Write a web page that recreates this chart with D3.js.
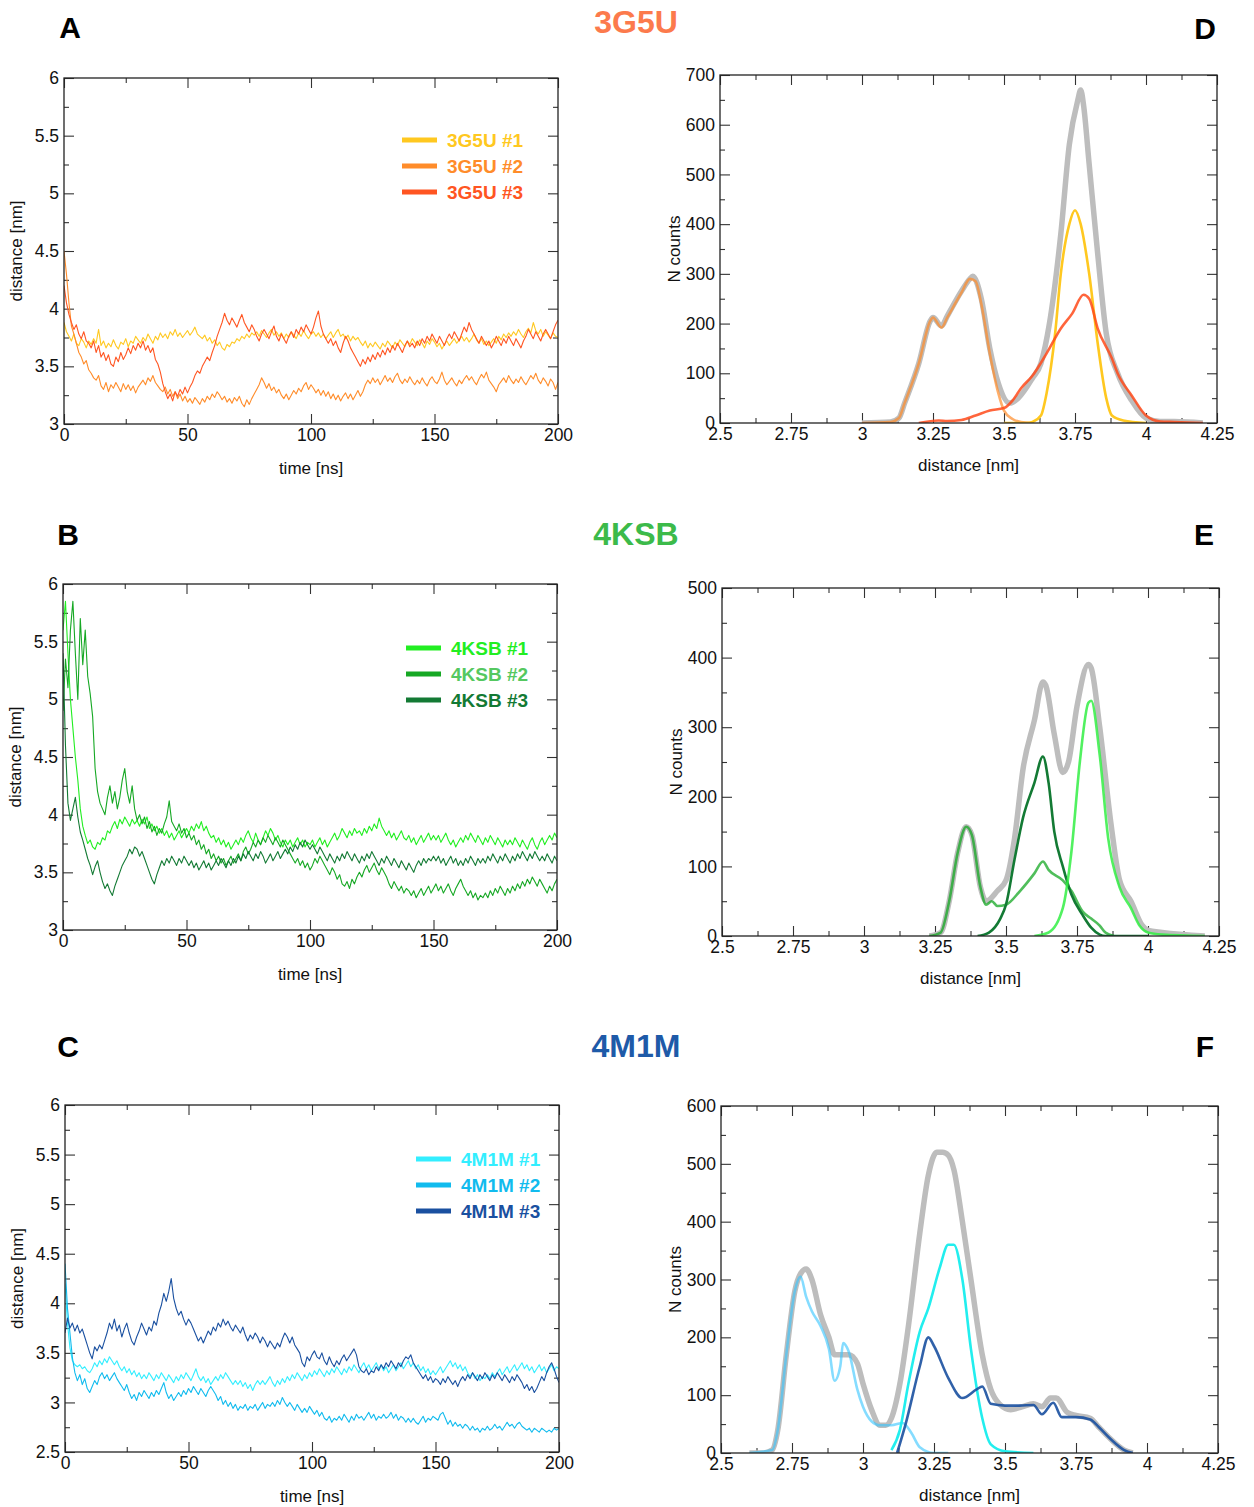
<!DOCTYPE html>
<html><head><meta charset="utf-8">
<script src="https://cdn.jsdelivr.net/npm/d3@7"></script>
<style>
body{margin:0;background:#fff;}
svg text{font-family:"Liberation Sans",Arial,Helvetica,sans-serif;}
</style>
</head><body>
<svg id="c" width="1254" height="1507"></svg>
<script>
// ---------------- DATA ----------------
const timeNs = d3.range(0, 201); // sampling times, 1 ns

const g3g5u_1 = [3.88,3.80,3.76,3.72,3.78,3.70,3.68,3.74,3.71,3.66,3.72,
3.69,3.74,3.70,3.82,3.68,3.72,3.66,3.70,3.67,3.73,
3.68,3.65,3.71,3.69,3.74,3.67,3.72,3.70,3.76,3.73,
3.70,3.75,3.72,3.78,3.74,3.70,3.76,3.73,3.79,3.75,
3.78,3.74,3.80,3.77,3.82,3.76,3.79,3.75,3.78,3.81,
3.77,3.80,3.84,3.78,3.76,3.74,3.77,3.72,3.75,3.70,
3.73,3.68,3.71,3.66,3.64,3.69,3.67,3.71,3.70,3.74,
3.72,3.76,3.74,3.78,3.75,3.79,3.77,3.80,3.76,3.81,
3.78,3.75,3.79,3.82,3.77,3.80,3.76,3.79,3.74,3.78,
3.75,3.80,3.77,3.74,3.79,3.76,3.81,3.77,3.74,3.78,
3.80,3.76,3.79,3.75,3.78,3.74,3.77,3.80,3.75,3.79,
3.82,3.76,3.78,3.74,3.77,3.72,3.76,3.73,3.75,3.71,
3.68,3.72,3.66,3.70,3.67,3.71,3.68,3.65,3.70,3.67,
3.72,3.69,3.66,3.71,3.68,3.73,3.70,3.67,3.72,3.69,
3.74,3.71,3.68,3.73,3.70,3.66,3.72,3.69,3.74,3.71,
3.67,3.70,3.65,3.69,3.72,3.68,3.71,3.74,3.70,3.73,
3.76,3.72,3.75,3.71,3.74,3.78,3.73,3.70,3.74,3.69,
3.72,3.68,3.71,3.74,3.70,3.76,3.73,3.78,3.75,3.79,
3.76,3.80,3.77,3.82,3.78,3.75,3.80,3.83,3.79,3.88,
3.81,3.78,3.82,3.76,3.80,3.77,3.74,3.79,3.76,3.75];

const g3g5u_2 = [4.50,4.30,4.05,3.85,3.78,3.70,3.62,3.58,3.52,3.55,3.47,
3.44,3.40,3.38,3.42,3.33,3.30,3.36,3.28,3.34,3.31,
3.36,3.32,3.28,3.35,3.30,3.34,3.29,3.33,3.27,3.32,
3.35,3.38,3.34,3.40,3.37,3.42,3.36,3.33,3.30,3.28,
3.32,3.26,3.30,3.24,3.28,3.22,3.26,3.20,3.24,3.19,
3.22,3.18,3.23,3.20,3.17,3.22,3.19,3.24,3.21,3.26,
3.23,3.28,3.25,3.21,3.24,3.19,3.22,3.18,3.23,3.20,
3.24,3.18,3.15,3.21,3.17,3.22,3.26,3.30,3.34,3.40,
3.36,3.31,3.35,3.29,3.32,3.27,3.30,3.25,3.22,3.26,
3.21,3.25,3.29,3.26,3.31,3.28,3.33,3.36,3.30,3.34,
3.31,3.27,3.30,3.25,3.29,3.24,3.28,3.22,3.26,3.21,
3.25,3.20,3.24,3.27,3.22,3.26,3.21,3.25,3.29,3.24,
3.28,3.34,3.38,3.35,3.40,3.36,3.39,3.34,3.38,3.42,
3.37,3.40,3.36,3.41,3.44,3.38,3.35,3.39,3.36,3.41,
3.37,3.34,3.38,3.35,3.40,3.36,3.33,3.38,3.41,3.37,
3.35,3.39,3.45,3.38,3.34,3.37,3.40,3.36,3.33,3.38,
3.35,3.39,3.42,3.38,3.41,3.37,3.34,3.39,3.43,3.40,
3.45,3.38,3.35,3.32,3.28,3.34,3.37,3.40,3.36,3.42,
3.38,3.35,3.39,3.36,3.41,3.37,3.34,3.38,3.42,3.39,
3.44,3.38,3.35,3.40,3.37,3.33,3.39,3.36,3.30,3.36];

const g3g5u_3 = [4.20,4.05,3.95,3.88,3.82,3.86,3.78,3.74,3.80,3.72,3.70,
3.66,3.72,3.62,3.68,3.58,3.62,3.55,3.60,3.52,3.50,
3.58,3.54,3.62,3.56,3.60,3.66,3.61,3.68,3.64,3.70,
3.66,3.72,3.64,3.68,3.62,3.66,3.56,3.52,3.45,3.35,
3.28,3.22,3.26,3.20,3.28,3.24,3.30,3.26,3.32,3.27,
3.32,3.36,3.42,3.46,3.44,3.50,3.54,3.58,3.55,3.62,
3.68,3.76,3.82,3.88,3.96,3.90,3.86,3.92,3.88,3.84,
3.90,3.95,3.88,3.84,3.80,3.86,3.82,3.76,3.72,3.78,
3.82,3.78,3.74,3.80,3.85,3.76,3.72,3.78,3.74,3.70,
3.76,3.80,3.75,3.82,3.78,3.84,3.80,3.86,3.82,3.78,
3.84,3.92,3.98,3.85,3.78,3.74,3.70,3.74,3.68,3.72,
3.66,3.62,3.70,3.76,3.72,3.66,3.62,3.58,3.54,3.50,
3.56,3.52,3.58,3.54,3.60,3.56,3.62,3.58,3.64,3.60,
3.66,3.62,3.68,3.64,3.70,3.66,3.62,3.68,3.72,3.67,
3.70,3.66,3.72,3.68,3.74,3.70,3.76,3.72,3.78,3.74,
3.70,3.76,3.72,3.68,3.74,3.78,3.74,3.80,3.76,3.72,
3.78,3.84,3.80,3.88,3.82,3.78,3.74,3.70,3.76,3.72,
3.68,3.72,3.66,3.70,3.76,3.72,3.68,3.74,3.70,3.76,
3.72,3.68,3.74,3.70,3.66,3.72,3.76,3.82,3.78,3.74,
3.80,3.76,3.72,3.78,3.82,3.78,3.74,3.80,3.86,3.90];

const g4ksb_1 = [5.60,5.85,5.40,5.00,4.75,4.50,4.30,4.05,3.90,3.82,3.75,
3.78,3.72,3.70,3.76,3.74,3.80,3.78,3.86,3.84,3.90,
3.94,3.88,3.96,3.92,3.98,3.94,3.90,3.96,3.92,3.95,
3.90,3.96,3.92,3.98,3.88,3.92,3.86,3.90,3.84,3.88,
3.82,3.86,3.80,3.84,3.78,3.82,3.86,3.80,3.84,3.88,
3.84,3.90,3.86,3.92,3.88,3.94,3.86,3.90,3.84,3.80,
3.82,3.76,3.80,3.74,3.78,3.72,3.76,3.70,3.74,3.78,
3.74,3.80,3.76,3.82,3.86,3.80,3.76,3.84,3.78,3.74,
3.80,3.86,3.82,3.88,3.84,3.78,3.82,3.76,3.72,3.78,
3.74,3.78,3.72,3.76,3.80,3.74,3.78,3.72,3.76,3.74,
3.78,3.72,3.76,3.80,3.74,3.78,3.72,3.76,3.80,3.84,
3.78,3.82,3.88,3.84,3.80,3.86,3.82,3.88,3.84,3.86,
3.82,3.88,3.84,3.90,3.86,3.92,3.88,3.97,3.90,3.86,
3.82,3.86,3.80,3.84,3.78,3.82,3.86,3.80,3.78,3.82,
3.76,3.80,3.74,3.78,3.82,3.76,3.80,3.84,3.78,3.82,
3.78,3.82,3.76,3.80,3.84,3.78,3.74,3.78,3.72,3.76,
3.80,3.76,3.82,3.78,3.84,3.80,3.76,3.82,3.78,3.74,
3.80,3.76,3.82,3.78,3.74,3.80,3.76,3.72,3.78,3.74,
3.78,3.74,3.80,3.76,3.72,3.78,3.74,3.70,3.76,3.80,
3.74,3.70,3.76,3.80,3.74,3.78,3.82,3.78,3.84,3.80];

const g4ksb_2 = [4.90,5.35,5.10,5.60,5.85,5.40,5.00,5.70,5.30,5.60,5.20,
5.05,4.85,4.40,4.20,4.10,4.05,4.00,4.15,4.25,4.10,
4.20,4.05,4.15,4.30,4.40,4.20,4.10,4.25,4.05,3.95,
4.00,3.92,3.98,3.88,3.94,3.85,3.90,3.82,3.88,3.84,
3.92,3.98,4.12,3.94,3.90,3.86,3.92,3.84,3.88,3.80,
3.84,3.78,3.82,3.74,3.78,3.70,3.74,3.66,3.70,3.62,
3.66,3.60,3.64,3.58,3.62,3.56,3.60,3.64,3.58,3.62,
3.66,3.60,3.68,3.72,3.66,3.70,3.76,3.72,3.78,3.74,
3.80,3.76,3.82,3.78,3.74,3.80,3.76,3.72,3.78,3.74,
3.70,3.66,3.62,3.58,3.62,3.56,3.60,3.54,3.58,3.52,
3.56,3.62,3.58,3.64,3.60,3.56,3.52,3.48,3.54,3.50,
3.44,3.48,3.40,3.38,3.42,3.36,3.44,3.40,3.46,3.50,
3.46,3.52,3.56,3.50,3.54,3.58,3.52,3.48,3.54,3.50,
3.46,3.40,3.36,3.42,3.38,3.34,3.38,3.32,3.36,3.34,
3.30,3.34,3.28,3.32,3.36,3.30,3.34,3.38,3.32,3.36,
3.40,3.34,3.38,3.32,3.36,3.40,3.34,3.30,3.36,3.40,
3.44,3.38,3.34,3.30,3.34,3.28,3.32,3.26,3.30,3.28,
3.32,3.28,3.34,3.30,3.36,3.32,3.38,3.34,3.30,3.36,
3.32,3.38,3.34,3.40,3.36,3.42,3.38,3.44,3.40,3.46,
3.42,3.38,3.44,3.40,3.36,3.32,3.38,3.34,3.40,3.44];

const g4ksb_3 = [5.40,4.60,4.10,3.95,4.05,4.15,3.98,3.85,3.78,3.70,3.62,
3.56,3.48,3.55,3.60,3.50,3.42,3.36,3.40,3.34,3.30,
3.38,3.44,3.50,3.56,3.60,3.64,3.70,3.66,3.72,3.70,
3.64,3.68,3.62,3.56,3.50,3.44,3.40,3.48,3.54,3.60,
3.56,3.62,3.58,3.64,3.60,3.56,3.62,3.58,3.64,3.60,
3.56,3.60,3.54,3.58,3.52,3.56,3.60,3.54,3.58,3.52,
3.56,3.60,3.56,3.62,3.58,3.54,3.60,3.56,3.62,3.58,
3.64,3.60,3.66,3.62,3.68,3.64,3.60,3.66,3.62,3.68,
3.64,3.58,3.62,3.66,3.60,3.64,3.68,3.62,3.66,3.70,
3.66,3.72,3.68,3.74,3.70,3.76,3.72,3.78,3.74,3.70,
3.74,3.70,3.66,3.72,3.68,3.64,3.60,3.66,3.62,3.58,
3.64,3.60,3.66,3.62,3.68,3.64,3.60,3.66,3.62,3.58,
3.64,3.60,3.66,3.62,3.68,3.64,3.60,3.56,3.62,3.58,
3.64,3.60,3.56,3.62,3.58,3.54,3.60,3.56,3.52,3.58,
3.54,3.50,3.56,3.60,3.56,3.62,3.58,3.62,3.60,3.64,
3.60,3.64,3.58,3.62,3.56,3.60,3.64,3.58,3.62,3.56,
3.60,3.56,3.62,3.58,3.64,3.60,3.56,3.62,3.58,3.62,
3.58,3.64,3.60,3.66,3.62,3.58,3.64,3.60,3.66,3.62,
3.58,3.64,3.60,3.66,3.62,3.68,3.64,3.60,3.66,3.62,
3.68,3.64,3.60,3.64,3.60,3.66,3.62,3.58,3.64,3.60];

const g4m1m_1 = [4.20,3.80,3.55,3.42,3.38,3.36,3.38,3.34,3.36,3.32,3.30,
3.34,3.40,3.36,3.42,3.38,3.44,3.40,3.46,3.42,3.38,
3.42,3.36,3.32,3.36,3.30,3.34,3.28,3.32,3.26,3.30,
3.24,3.28,3.24,3.30,3.26,3.22,3.28,3.24,3.30,3.26,
3.22,3.28,3.24,3.20,3.26,3.22,3.28,3.24,3.30,3.26,
3.22,3.28,3.34,3.26,3.22,3.26,3.20,3.24,3.18,3.22,
3.26,3.22,3.28,3.24,3.30,3.26,3.22,3.18,3.22,3.18,
3.22,3.16,3.20,3.14,3.18,3.12,3.18,3.22,3.18,3.22,
3.18,3.22,3.26,3.20,3.16,3.22,3.18,3.24,3.20,3.26,
3.22,3.28,3.24,3.30,3.26,3.22,3.28,3.24,3.30,3.26,
3.32,3.28,3.34,3.30,3.26,3.32,3.28,3.34,3.30,3.36,
3.32,3.28,3.34,3.30,3.36,3.32,3.38,3.34,3.30,3.36,
3.40,3.34,3.38,3.32,3.36,3.40,3.34,3.38,3.32,3.36,
3.30,3.34,3.38,3.32,3.36,3.40,3.34,3.38,3.42,3.36,
3.40,3.34,3.38,3.32,3.36,3.30,3.34,3.28,3.32,3.28,
3.32,3.36,3.30,3.34,3.38,3.42,3.36,3.40,3.34,3.38,
3.32,3.36,3.30,3.26,3.30,3.24,3.28,3.22,3.26,3.24,
3.28,3.24,3.30,3.26,3.30,3.34,3.28,3.32,3.36,3.30,
3.34,3.38,3.32,3.36,3.40,3.34,3.38,3.32,3.36,3.30,
3.34,3.38,3.32,3.36,3.30,3.34,3.38,3.32,3.36,3.34];

const g4m1m_2 = [4.40,3.95,3.70,3.45,3.30,3.22,3.28,3.18,3.24,3.14,3.10,
3.16,3.22,3.18,3.26,3.30,3.24,3.28,3.22,3.26,3.30,
3.24,3.20,3.16,3.12,3.18,3.10,3.04,3.08,3.02,3.10,
3.06,3.12,3.08,3.04,3.10,3.06,3.12,3.08,3.14,3.20,
3.10,3.04,3.08,3.02,3.06,3.10,3.06,3.12,3.08,3.14,
3.10,3.16,3.12,3.08,3.14,3.10,3.06,3.12,3.16,3.12,
3.08,3.02,3.06,2.98,3.02,2.96,3.00,2.94,2.98,2.92,
2.96,2.94,2.98,2.92,2.96,2.94,2.98,2.92,2.96,3.00,
2.94,2.98,2.96,3.00,2.96,3.02,2.98,3.05,3.00,2.96,
3.00,2.96,2.92,2.98,2.94,2.90,2.94,2.90,2.96,2.92,
2.88,2.92,2.86,2.90,2.84,2.82,2.86,2.80,2.84,2.82,
2.86,2.82,2.88,2.84,2.80,2.86,2.82,2.88,2.84,2.86,
2.82,2.86,2.90,2.84,2.88,2.82,2.86,2.84,2.88,2.84,
2.86,2.90,2.84,2.88,2.82,2.86,2.84,2.80,2.84,2.80,
2.84,2.80,2.78,2.82,2.86,2.80,2.84,2.82,2.86,2.84,
2.82,2.88,2.90,2.84,2.78,2.82,2.76,2.80,2.76,2.78,
2.74,2.78,2.76,2.72,2.76,2.72,2.74,2.70,2.74,2.72,
2.76,2.72,2.74,2.78,2.74,2.76,2.72,2.76,2.80,2.76,
2.78,2.74,2.78,2.80,2.76,2.74,2.72,2.74,2.70,2.74,
2.72,2.70,2.74,2.72,2.70,2.72,2.70,2.74,2.72,2.74];

const g4m1m_3 = [3.70,3.85,3.75,3.80,3.72,3.78,3.70,3.74,3.66,3.58,3.50,
3.44,3.56,3.52,3.58,3.54,3.62,3.70,3.80,3.74,3.84,
3.72,3.78,3.66,3.74,3.80,3.70,3.62,3.58,3.66,3.72,
3.80,3.74,3.68,3.76,3.72,3.82,3.78,3.90,3.98,4.10,
4.02,4.12,4.25,4.05,3.95,3.88,3.92,3.84,3.78,3.84,
3.80,3.74,3.68,3.62,3.66,3.60,3.66,3.72,3.68,3.76,
3.72,3.80,3.76,3.84,3.78,3.82,3.76,3.72,3.78,3.74,
3.70,3.76,3.68,3.62,3.68,3.64,3.70,3.66,3.60,3.66,
3.62,3.56,3.62,3.58,3.54,3.60,3.56,3.64,3.70,3.66,
3.60,3.66,3.58,3.54,3.50,3.40,3.36,3.46,3.42,3.48,
3.52,3.46,3.44,3.50,3.42,3.38,3.46,3.40,3.36,3.42,
3.38,3.44,3.48,3.42,3.46,3.50,3.54,3.48,3.36,3.32,
3.30,3.34,3.28,3.32,3.30,3.36,3.32,3.38,3.34,3.40,
3.36,3.42,3.38,3.34,3.40,3.36,3.42,3.46,3.44,3.48,
3.40,3.36,3.32,3.28,3.24,3.28,3.22,3.26,3.20,3.24,
3.22,3.18,3.24,3.20,3.26,3.22,3.18,3.22,3.16,3.22,
3.26,3.22,3.28,3.24,3.30,3.26,3.22,3.28,3.24,3.30,
3.26,3.22,3.28,3.24,3.30,3.26,3.22,3.28,3.24,3.20,
3.26,3.22,3.28,3.24,3.20,3.14,3.18,3.12,3.16,3.10,
3.14,3.20,3.26,3.22,3.30,3.36,3.40,3.34,3.26,3.20];

// histograms: [distance nm, N counts]
const hist3g5u_all = [[3.0,0],[3.1,2],[3.13,10],[3.15,40],[3.2,120],[3.24,205],[3.25,212],[3.28,195],[3.3,215],[3.35,265],[3.38,290],[3.39,295],[3.42,250],[3.45,150],[3.48,80],[3.52,40],[3.55,50],[3.6,90],[3.63,120],[3.66,200],[3.7,380],[3.73,560],[3.76,650],[3.77,670],[3.78,640],[3.8,520],[3.83,340],[3.86,180],[3.9,100],[3.95,45],[4.0,10],[4.05,3],[4.1,3],[4.2,0]];
const hist3g5u_1 = [[3.5,0],[3.58,0],[3.6,2],[3.63,15],[3.65,60],[3.68,180],[3.7,300],[3.73,400],[3.75,428],[3.77,400],[3.8,300],[3.83,160],[3.86,50],[3.88,15],[3.92,5],[4.0,0]];
const hist3g5u_2 = [[3.0,0],[3.1,2],[3.13,10],[3.15,40],[3.2,120],[3.24,205],[3.25,212],[3.28,192],[3.3,212],[3.35,262],[3.38,290],[3.4,285],[3.42,240],[3.45,140],[3.48,60],[3.5,25],[3.53,8],[3.56,2],[3.6,0]];
const hist3g5u_3 = [[3.2,0],[3.27,5],[3.3,4],[3.35,6],[3.4,15],[3.45,25],[3.5,30],[3.53,45],[3.56,70],[3.6,95],[3.65,140],[3.7,190],[3.74,220],[3.78,258],[3.8,250],[3.83,190],[3.88,130],[3.9,100],[3.95,55],[4.0,15],[4.05,3],[4.1,2],[4.2,0]];

const hist4ksb_all = [[3.23,0],[3.27,5],[3.3,50],[3.33,120],[3.36,157],[3.38,145],[3.41,70],[3.43,50],[3.47,65],[3.5,80],[3.53,140],[3.56,240],[3.6,310],[3.63,365],[3.64,360],[3.67,290],[3.7,235],[3.72,250],[3.75,330],[3.79,390],[3.8,385],[3.83,300],[3.87,160],[3.9,80],[3.94,50],[3.98,15],[4.0,8],[4.05,5],[4.2,0]];
const hist4ksb_1 = [[3.6,0],[3.65,5],[3.7,40],[3.73,120],[3.76,250],[3.79,335],[3.8,338],[3.83,260],[3.86,140],[3.9,70],[3.94,40],[3.97,15],[4.0,5],[4.05,2],[4.2,0]];
const hist4ksb_2 = [[3.23,0],[3.27,5],[3.3,50],[3.33,120],[3.36,157],[3.38,145],[3.41,70],[3.43,45],[3.45,50],[3.47,43],[3.5,45],[3.55,65],[3.6,90],[3.63,107],[3.65,95],[3.7,80],[3.73,65],[3.77,35],[3.8,25],[3.83,15],[3.85,5],[3.88,0]];
const hist4ksb_3 = [[3.4,0],[3.44,5],[3.48,25],[3.5,45],[3.53,110],[3.56,170],[3.6,220],[3.63,258],[3.65,220],[3.67,150],[3.7,100],[3.73,60],[3.77,30],[3.8,12],[3.83,2],[3.85,0],[4.0,0]];

const hist4m1m_all = [[2.6,0],[2.65,0],[2.68,5],[2.7,40],[2.73,170],[2.76,280],[2.78,310],[2.8,318],[2.82,300],[2.85,240],[2.88,200],[2.9,170],[2.95,170],[2.98,155],[3.0,120],[3.03,75],[3.06,48],[3.08,48],[3.1,60],[3.13,120],[3.16,220],[3.2,380],[3.23,480],[3.26,520],[3.28,520],[3.3,515],[3.32,490],[3.35,400],[3.38,300],[3.42,170],[3.45,110],[3.48,85],[3.52,75],[3.56,80],[3.6,85],[3.63,80],[3.66,95],[3.68,95],[3.72,70],[3.75,65],[3.8,60],[3.83,45],[3.87,25],[3.92,5],[3.95,0]];
const hist4m1m_1 = [[3.1,5],[3.13,40],[3.16,120],[3.2,210],[3.23,250],[3.27,320],[3.3,360],[3.32,360],[3.35,300],[3.38,180],[3.42,60],[3.45,15],[3.5,3],[3.6,0]];
const hist4m1m_2 = [[2.6,0],[2.68,5],[2.7,40],[2.73,170],[2.76,280],[2.78,305],[2.8,270],[2.82,245],[2.85,220],[2.88,180],[2.9,125],[2.92,150],[2.93,190],[2.95,175],[2.98,110],[3.0,80],[3.03,55],[3.06,48],[3.1,48],[3.14,52],[3.17,35],[3.2,10],[3.25,0],[3.3,0]];
const hist4m1m_3 = [[3.12,0],[3.15,50],[3.2,150],[3.23,200],[3.25,185],[3.3,130],[3.35,95],[3.4,110],[3.42,115],[3.45,85],[3.5,82],[3.55,82],[3.6,83],[3.63,67],[3.67,87],[3.7,62],[3.75,62],[3.8,58],[3.83,45],[3.87,25],[3.92,5],[3.95,0]];

const timeTicks = [0, 50, 100, 150, 200];
const distTicks = [2.5, 2.75, 3, 3.25, 3.5, 3.75, 4, 4.25];
const seriesNames3g5u = ["3G5U #1", "3G5U #2", "3G5U #3"];
const seriesNames4ksb = ["4KSB #1", "4KSB #2", "4KSB #3"];
const seriesNames4m1m = ["4M1M #1", "4M1M #2", "4M1M #3"];

// ---------------- DRAW ----------------
const svg = d3.select("#c");
const FONT = '"Liberation Sans",Arial,Helvetica,sans-serif';
let clipId = 0;

function frame(g, x, y, xMaj, xMin, yMaj, yMin, xFmt, yFmt, r) {
  const cid = "clip" + (clipId++);
  g.append("clipPath").attr("id", cid).append("rect")
    .attr("x", r.x0).attr("y", r.y0).attr("width", r.x1 - r.x0).attr("height", r.y1 - r.y0);
  const ax = (gen, tr, vals, size, labels, fmt, pad) => {
    const a = gen.tickValues(vals).tickSize(size).tickSizeOuter(0).tickPadding(pad || 6);
    a.tickFormat(labels ? fmt : () => "");
    const s = g.append("g").attr("transform", tr).call(a);
    s.select(".domain").remove();
    s.selectAll("line").attr("stroke", "#333").attr("stroke-width", 1.1);
    s.selectAll("text").attr("font-family", FONT).attr("font-size", 17.5).attr("fill", "#111");
    return s;
  };
  ax(d3.axisBottom(x), `translate(0,${r.y1})`, xMaj, -10, true, xFmt, 5);
  ax(d3.axisBottom(x), `translate(0,${r.y1})`, xMin, -5, false);
  ax(d3.axisTop(x), `translate(0,${r.y0})`, xMaj, -10, false);
  ax(d3.axisTop(x), `translate(0,${r.y0})`, xMin, -5, false);
  ax(d3.axisLeft(y), `translate(${r.x0},0)`, yMaj, -10, true, yFmt, 5);
  ax(d3.axisLeft(y), `translate(${r.x0},0)`, yMin, -5, false);
  ax(d3.axisRight(y), `translate(${r.x1},0)`, yMaj, -10, false);
  ax(d3.axisRight(y), `translate(${r.x1},0)`, yMin, -5, false);
  return cid;
}

function border(g, r) {
  g.append("rect").attr("x", r.x0).attr("y", r.y0).attr("width", r.x1 - r.x0).attr("height", r.y1 - r.y0)
    .attr("fill", "none").attr("stroke", "#222").attr("stroke-width", 1.3);
}

function timePanel(r, yDom, series, colors, names, legendColors, legX, legY) {
  const g = svg.append("g");
  const x = d3.scaleLinear().domain([0, 200]).range([r.x0, r.x1]);
  const y = d3.scaleLinear().domain(yDom).range([r.y1, r.y0]);
  const yMaj = d3.range(yDom[0], yDom[1] + 0.001, 0.5);
  const yMin = d3.range(yDom[0] + 0.25, yDom[1], 0.5);
  const cid = frame(g, x, y, timeTicks, [25, 75, 125, 175], yMaj, yMin, d3.format("d"), d => d3.format("~g")(d), r);
  const line = d3.line().x((d, i) => x(timeNs[i])).y(d => y(d));
  const lg = g.append("g").attr("clip-path", `url(#${cid})`);
  series.forEach((s, k) => {
    lg.append("path").datum(s).attr("d", line).attr("fill", "none")
      .attr("stroke", colors[k]).attr("stroke-width", 1.1).attr("stroke-linejoin", "round");
  });
  border(g, r);
  // legend
  names.forEach((n, k) => {
    const yy = legY + k * 26;
    g.append("line").attr("x1", legX).attr("x2", legX + 35).attr("y1", yy).attr("y2", yy)
      .attr("stroke", colors[k]).attr("stroke-width", 5);
    g.append("text").attr("x", legX + 45).attr("y", yy + 6.5).text(n)
      .attr("font-family", FONT).attr("font-weight", "bold").attr("font-size", 19)
      .attr("fill", legendColors[k]);
  });
  g.append("text").attr("transform", `translate(${r.x0 - 42},${(r.y0 + r.y1) / 2}) rotate(-90)`)
    .attr("text-anchor", "middle").attr("font-family", FONT).attr("font-size", 17).attr("fill", "#111")
    .text("distance [nm]");
  g.append("text").attr("x", (r.x0 + r.x1) / 2).attr("y", r.y1 + 50).attr("text-anchor", "middle")
    .attr("font-family", FONT).attr("font-size", 17).attr("fill", "#111").text("time [ns]");
}

function histPanel(r, yMax, total, parts, colors) {
  const g = svg.append("g");
  const x = d3.scaleLinear().domain([2.5, 4.25]).range([r.x0, r.x1]);
  const y = d3.scaleLinear().domain([0, yMax]).range([r.y1, r.y0]);
  const yMaj = d3.range(0, yMax + 1, 100);
  const yMin = d3.range(50, yMax, 100);
  const xMin = d3.range(2.625, 4.25, 0.25);
  const cid = frame(g, x, y, distTicks, xMin, yMaj, yMin, d => d3.format("~g")(d), d3.format("d"), r);
  const line = d3.line().x(d => x(d[0])).y(d => y(d[1])).curve(d3.curveMonotoneX);
  const lg = g.append("g").attr("clip-path", `url(#${cid})`);
  lg.append("path").datum(total).attr("d", line).attr("fill", "none")
    .attr("stroke", "#bdbdbd").attr("stroke-width", 5.5).attr("stroke-linejoin", "round");
  parts.forEach((p, k) => {
    lg.append("path").datum(p).attr("d", line).attr("fill", "none")
      .attr("stroke", colors[k].c).attr("stroke-opacity", colors[k].o).attr("stroke-width", 2.6)
      .attr("stroke-linejoin", "round");
  });
  border(g, r);
  g.append("text").attr("transform", `translate(${r.x0 - 40},${(r.y0 + r.y1) / 2}) rotate(-90)`)
    .attr("text-anchor", "middle").attr("font-family", FONT).attr("font-size", 17).attr("fill", "#111")
    .text("N counts");
  g.append("text").attr("x", (r.x0 + r.x1) / 2).attr("y", r.y1 + 48).attr("text-anchor", "middle")
    .attr("font-family", FONT).attr("font-size", 17).attr("fill", "#111").text("distance [nm]");
}

const rA = {x0: 64, x1: 558, y0: 78, y1: 424};
const rB = {x0: 63, x1: 557, y0: 584, y1: 930};
const rC = {x0: 65, x1: 559, y0: 1105, y1: 1452};
const rD = {x0: 720, x1: 1217, y0: 75, y1: 423};
const rE = {x0: 722, x1: 1219, y0: 588, y1: 936};
const rF = {x0: 721, x1: 1218, y0: 1106, y1: 1453};

timePanel(rA, [3, 6], [g3g5u_1, g3g5u_2, g3g5u_3], ["#ffc820", "#ff8c2a", "#ff5522"], seriesNames3g5u,
  ["#ffc820", "#ff8c2a", "#ff5522"], 402, 140);
timePanel(rB, [3, 6], [g4ksb_1, g4ksb_2, g4ksb_3], ["#22ee22", "#16a824", "#137a34"], seriesNames4ksb,
  ["#22ee22", "#55c860", "#137a34"], 406, 648);
timePanel(rC, [2.5, 6], [g4m1m_1, g4m1m_2, g4m1m_3], ["#33eeff", "#11bbee", "#1a50a0"], seriesNames4m1m,
  ["#33eeff", "#11bbee", "#1a50a0"], 416, 1159);

histPanel(rD, 700, hist3g5u_all, [hist3g5u_2, hist3g5u_1, hist3g5u_3],
  [{c: "#ff8c2a", o: 0.7}, {c: "#ffc820", o: 1}, {c: "#ff4a1a", o: 0.85}]);
histPanel(rE, 500, hist4ksb_all, [hist4ksb_2, hist4ksb_3, hist4ksb_1],
  [{c: "#16a824", o: 0.75}, {c: "#137a34", o: 1}, {c: "#33ee44", o: 0.85}]);
histPanel(rF, 600, hist4m1m_all, [hist4m1m_2, hist4m1m_1, hist4m1m_3],
  [{c: "#33c4ff", o: 0.6}, {c: "#22eeee", o: 1}, {c: "#1a50a0", o: 0.9}]);

// titles and panel letters
const titles = [
  {t: "3G5U", y: 33, c: "#fc7a4c"},
  {t: "4KSB", y: 545, c: "#3cba4a"},
  {t: "4M1M", y: 1057, c: "#1e5aa8"}
];
titles.forEach(d => svg.append("text").attr("x", 636).attr("y", d.y).attr("text-anchor", "middle")
  .attr("font-family", FONT).attr("font-weight", "bold").attr("font-size", 32).attr("fill", d.c).text(d.t));
const letters = [
  {t: "A", x: 70, y: 38}, {t: "B", x: 68, y: 545}, {t: "C", x: 68, y: 1057},
  {t: "D", x: 1205, y: 39}, {t: "E", x: 1204, y: 545}, {t: "F", x: 1205, y: 1057}
];
letters.forEach(d => svg.append("text").attr("x", d.x).attr("y", d.y).attr("text-anchor", "middle")
  .attr("font-family", FONT).attr("font-weight", "bold").attr("font-size", 30).attr("fill", "#000").text(d.t));
</script>
</body></html>
